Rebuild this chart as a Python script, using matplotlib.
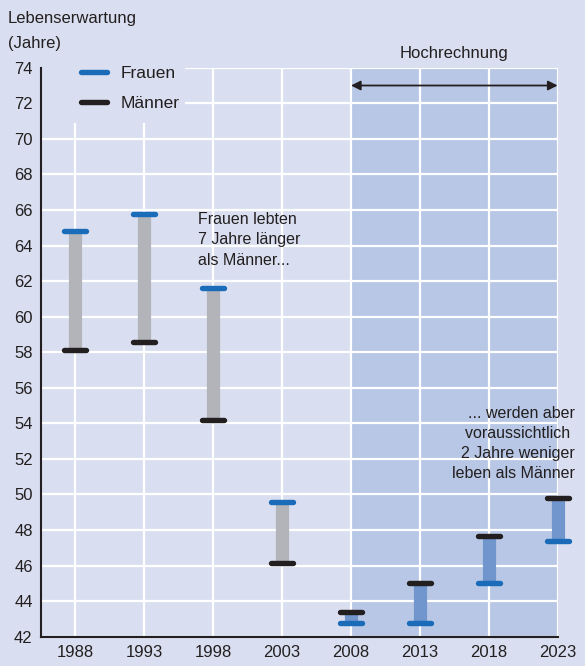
import matplotlib
matplotlib.use("Agg")
import matplotlib.pyplot as plt
from matplotlib.lines import Line2D
from matplotlib.patches import Rectangle

plt.rcParams['font.family'] = ['Liberation Sans', 'DejaVu Sans']

years = [1988, 1993, 1998, 2003, 2008, 2013, 2018, 2023]
frauen = [64.8, 65.8, 61.6, 49.6, 42.75, 42.75, 45.0, 47.4]
maenner = [58.1, 58.6, 54.2, 46.15, 43.4, 45.0, 47.65, 49.8]
projection_start = 2008
yticks = list(range(42, 76, 2))

BG = '#d9dff0'
SHADE = '#b7c7e5'
F_COL = '#1a6cb8'
M_COL = '#231f20'
GRAY_BAR = '#b3b4b9'
BLUE_BAR = '#7196cd'
TXT = '#231f20'

fig = plt.figure(figsize=(5.85, 6.66), dpi=100, facecolor=BG)
ax = fig.add_axes([0.0701, 0.044, 0.8831, 0.8543])
ax.set_facecolor(BG)
ax.set_xlim(1985.5, 2023)
ax.set_ylim(42, 74)

# projection shading
ax.axvspan(projection_start, 2023, color=SHADE, zorder=0.2, lw=0)

ax.set_axisbelow(True)
ax.grid(True, color='white', lw=1.6, zorder=0.5)
ax.set_xticks(years)
ax.set_yticks(yticks)
ax.tick_params(length=0, labelsize=12, colors=TXT, pad=6)
for s in ['top', 'right']:
    ax.spines[s].set_visible(False)
for s in ['left', 'bottom']:
    ax.spines[s].set_color(TXT)
    ax.spines[s].set_linewidth(1.5)

# mask behind legend
ax.add_patch(Rectangle((0, 0.903), 0.279, 0.2, transform=ax.transAxes,
                       facecolor=BG, edgecolor='none', zorder=2.4, clip_on=False))

half = 0.8
for yr, f, m in zip(years, frauen, maenner):
    col = BLUE_BAR if yr >= projection_start else GRAY_BAR
    ax.vlines(yr, min(f, m), max(f, m), colors=col, lw=9.5, zorder=2,
              clip_on=False)
    ax.plot([yr - half, yr + half], [f, f], color=F_COL, lw=3.9,
            solid_capstyle='round', zorder=3, clip_on=False)
    ax.plot([yr - half, yr + half], [m, m], color=M_COL, lw=3.9,
            solid_capstyle='round', zorder=3, clip_on=False)

handles = [Line2D([], [], color=F_COL, lw=3.9, solid_capstyle='round'),
           Line2D([], [], color=M_COL, lw=3.9, solid_capstyle='round')]
leg = ax.legend(handles, ['Frauen', 'Männer'], loc='upper left',
                bbox_to_anchor=(0.058, 1.021), frameon=False, fontsize=12.5,
                handlelength=1.5, handletextpad=0.75, labelspacing=0.85,
                borderpad=0.6, borderaxespad=0)
for t in leg.get_texts():
    t.set_color(TXT)
leg.set_zorder(2.45)

# arrow for projection
ax.annotate('', xy=(2023, 73), xytext=(projection_start, 73),
            arrowprops=dict(arrowstyle='<|-|>', color=TXT, lw=1.3,
                            mutation_scale=14, shrinkA=0, shrinkB=0),
            zorder=4)
ax.text((projection_start + 2023) / 2, 74.8, 'Hochrechnung', ha='center',
        va='center', fontsize=12, color=TXT, clip_on=False)

ax.text(1996.9, 65.9, 'Frauen lebten\n7 Jahre länger\nals Männer...',
        ha='left', va='top', fontsize=11.5, color=TXT, linespacing=1.45)
ax.text(2024.25, 54.95, '... werden aber\nvoraussichtlich \n2 Jahre weniger\nleben als Männer',
        ha='right', va='top', fontsize=11.5, color=TXT, linespacing=1.4,
        clip_on=False)

fig.text(8 / 585, 1 - 11 / 666, 'Lebenserwartung\n(Jahre)', ha='left', va='top',
         fontsize=12, color=TXT, linespacing=1.8)

fig.savefig('out.png', dpi=100, facecolor=BG)
